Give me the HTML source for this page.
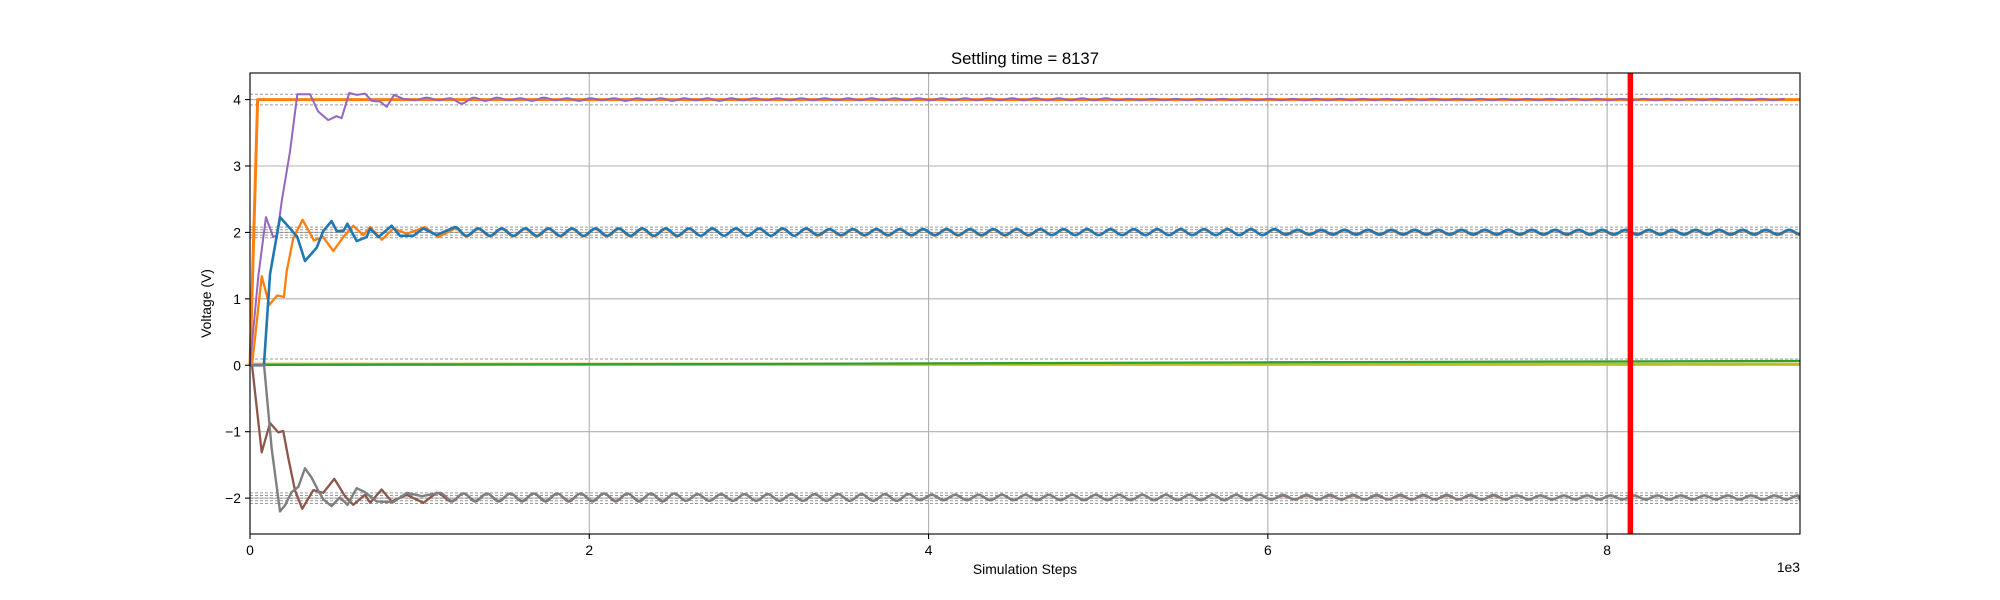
<!DOCTYPE html>
<html><head><meta charset="utf-8"><style>
html,body{margin:0;padding:0;background:#fff;}
svg{display:block;font-family:"Liberation Sans","DejaVu Sans",sans-serif;}
</style></head><body>
<svg id="chart" width="2000" height="600" viewBox="0 0 2000 600" xmlns="http://www.w3.org/2000/svg">
<rect x="0" y="0" width="2000" height="600" fill="#fff"/>
<g id="grid"></g>
<g id="bands"></g>
<g id="series"></g>
<g id="marker"></g>
<rect x="250" y="73" width="1550" height="461" fill="none" stroke="#000" stroke-width="1.1"/>
<g id="ticks"></g>
<text x="1025" y="64" text-anchor="middle" font-size="16.7" fill="#000">Settling time = 8137</text>
<text x="1025" y="574" text-anchor="middle" font-size="13.9" fill="#000">Simulation Steps</text>
<text transform="translate(211,303.5) rotate(-90)" text-anchor="middle" font-size="13.9" fill="#000">Voltage (V)</text>
<text x="1800" y="572" text-anchor="end" font-size="13.9" fill="#000">1e3</text>
</svg>
<script>
const xTicks = [0, 2000, 4000, 6000, 8000];
const xTickLabels = ["0", "2", "4", "6", "8"];
const yTicks = [-2, -1, 0, 1, 2, 3, 4];
const yTickLabels = ["\u22122", "\u22121", "0", "1", "2", "3", "4"];
const bandLevels = [4.08, 3.92, 2.08, 2.04, 2.0, 1.96, 1.92, 0.095, -1.92, -1.96, -2.0, -2.04, -2.08];
const settlingTime = 8137;
const xMax = 9137;
const halfPeriod = 69;

const orange4X = [0, 45, 9137];
const orange4Y = [0, 4, 4];
const oliveX = [0, 9137];
const oliveY = [0.02, 0.02];
const greenX = [0, 100, 3000, 6000, 9137];
const greenY = [0, 0.005, 0.02, 0.045, 0.065];

const purpleX = [0, 49, 94, 137, 160, 187, 236, 279, 354, 402, 461, 510, 540, 585, 629, 678, 718, 767, 806, 849, 904];
const purpleY = [0, 1.34, 2.23, 1.93, 1.96, 2.47, 3.22, 4.08, 4.08, 3.82, 3.69, 3.75, 3.72, 4.10, 4.07, 4.09, 3.98, 3.97, 3.89, 4.07, 4.01];
const purpleStart = 973;
const purpleSS = [
3.99,4.03,3.99,4.02,3.94,4.03,3.98,4.03,3.99,4.02,
3.98,4.03,3.99,4.02,3.98,4.02,3.99,4.02,3.98,4.02,
3.99,4.02,3.98,4.02,3.99,4.02,3.98,4.02,3.99,4.02,
3.99,4.02,3.99,4.02,3.99,4.02,3.99,4.02,3.99,4.02,
3.99,4.02,3.99,4.02,3.99,4.02,3.99,4.02,3.99,4.02,
3.99,4.02,3.99,4.02,3.99,4.02,3.99,4.02,3.99,4.02,
3.99,4.01,3.99,4.01,3.99,4.01,3.99,4.01,3.99,4.01,
3.99,4.01,3.99,4.01,3.99,4.01,3.99,4.01,3.99,4.01,
3.99,4.01,3.99,4.01,3.99,4.01,3.99,4.01,3.99,4.01,
3.99,4.01,3.99,4.01,3.99,4.01,3.99,4.01,3.99,4.01,
3.99,4.01,3.99,4.01,3.99,4.01,3.99,4.01,3.99,4.01,
3.99,4.01,3.99,4.01,3.99,4.01,3.99,4.01];

const orange2X = [0, 12, 69, 114, 160, 200, 216, 255, 310, 377, 432, 491, 550, 609, 668, 708, 777, 845, 924, 1032, 1110, 1208];
const orange2Y = [0, 0, 1.34, 0.91, 1.05, 1.03, 1.41, 1.91, 2.19, 1.88, 1.93, 1.72, 1.93, 2.10, 1.96, 2.08, 1.89, 2.06, 1.98, 2.08, 1.93, 2.06];
const orange2Start = 1277;
const orange2SS = [
1.94,2.05,1.94,2.05,1.94,2.05,1.94,2.05,1.94,2.05,
1.94,2.05,1.94,2.05,1.94,2.05,1.94,2.05,1.94,2.05,
1.95,2.05,1.95,2.05,1.95,2.05,1.95,2.05,1.95,2.05,
1.95,2.04,1.95,2.04,1.95,2.04,1.95,2.04,1.95,2.04,
1.95,2.04,1.95,2.04,1.95,2.04,1.95,2.04,1.95,2.04,
1.96,2.04,1.96,2.04,1.96,2.04,1.96,2.04,1.96,2.04,
1.96,2.04,1.96,2.04,1.96,2.04,1.96,2.04,1.96,2.04,
1.96,2.03,1.96,2.03,1.96,2.03,1.96,2.03,1.96,2.03,
1.96,2.03,1.96,2.03,1.96,2.03,1.96,2.03,1.96,2.03,
1.96,2.03,1.96,2.03,1.96,2.03,1.96,2.03,1.96,2.03,
1.96,2.03,1.96,2.03,1.96,2.03,1.96,2.03,1.96,2.03,
1.96,2.03,1.96,2.03,1.96];

const blueX = [0, 82, 118, 177, 236, 279, 324, 393, 432, 481, 511, 550, 574, 629, 688, 708, 757, 835, 884, 963, 1022, 1100, 1208];
const blueY = [0, 0, 1.37, 2.23, 2.06, 1.93, 1.57, 1.77, 2.02, 2.17, 2.02, 2.02, 2.13, 1.87, 1.93, 2.06, 1.93, 2.10, 1.95, 1.95, 2.06, 1.96, 2.08];
const blueStart = 1277;
const blueSS = [
1.95,2.06,1.95,2.06,1.95,2.06,1.95,2.06,1.95,2.06,
1.95,2.06,1.95,2.06,1.95,2.06,1.95,2.06,1.95,2.06,
1.95,2.06,1.95,2.06,1.95,2.06,1.95,2.06,1.95,2.06,
1.96,2.05,1.96,2.05,1.96,2.05,1.96,2.05,1.96,2.05,
1.96,2.05,1.96,2.05,1.96,2.05,1.96,2.05,1.96,2.05,
1.96,2.05,1.96,2.05,1.96,2.05,1.96,2.05,1.96,2.05,
1.96,2.05,1.96,2.05,1.96,2.05,1.96,2.05,1.96,2.05,
1.97,2.04,1.97,2.04,1.97,2.04,1.97,2.04,1.97,2.04,
1.97,2.04,1.97,2.04,1.97,2.04,1.97,2.04,1.97,2.04,
1.97,2.04,1.97,2.04,1.97,2.04,1.97,2.04,1.97,2.04,
1.97,2.04,1.97,2.04,1.97,2.04,1.97,2.04,1.97,2.04,
1.97,2.04,1.97,2.04,1.97];

const brownX = [0, 12, 69, 118, 167, 196, 226, 265, 308, 373, 432, 497, 560, 609, 678, 708, 776, 835, 924, 1022, 1100];
const brownY = [0, 0, -1.31, -0.87, -1.01, -0.99, -1.40, -1.88, -2.16, -1.88, -1.92, -1.71, -1.97, -2.10, -1.95, -2.07, -1.87, -2.05, -1.95, -2.07, -1.92];
const brownStart = 1190;
const brownSS = [
-2.05,-1.93,-2.05,-1.93,-2.05,-1.93,-2.05,-1.93,-2.05,-1.93,
-2.05,-1.93,-2.05,-1.93,-2.05,-1.93,-2.05,-1.93,-2.05,-1.93,
-2.04,-1.94,-2.04,-1.94,-2.04,-1.94,-2.04,-1.94,-2.04,-1.94,
-2.04,-1.94,-2.04,-1.94,-2.04,-1.94,-2.04,-1.94,-2.04,-1.94,
-2.03,-1.95,-2.03,-1.95,-2.03,-1.95,-2.03,-1.95,-2.03,-1.95,
-2.03,-1.95,-2.03,-1.95,-2.03,-1.95,-2.03,-1.95,-2.03,-1.95,
-2.03,-1.95,-2.03,-1.95,-2.03,-1.95,-2.03,-1.95,-2.03,-1.95,
-2.02,-1.96,-2.02,-1.96,-2.02,-1.96,-2.02,-1.96,-2.02,-1.96,
-2.02,-1.96,-2.02,-1.96,-2.02,-1.96,-2.02,-1.96,-2.02,-1.96,
-2.02,-1.96,-2.02,-1.96,-2.02,-1.96,-2.02,-1.96,-2.02,-1.96,
-2.02,-1.96,-2.02,-1.96,-2.02,-1.96,-2.02,-1.96,-2.02,-1.96,
-2.02,-1.96,-2.02,-1.96,-2.02,-1.96,-2.02];

const grayX = [0, 83, 128, 177, 206, 245, 285, 324, 363, 403, 432, 481, 530, 575, 629, 678, 747, 845, 924, 1012, 1120];
const grayY = [0, 0, -1.26, -2.20, -2.11, -1.91, -1.83, -1.55, -1.69, -1.89, -2.02, -2.12, -1.99, -2.10, -1.85, -1.91, -2.05, -2.06, -1.92, -1.97, -1.92];
const grayStart = 1190;
const graySS = [
-2.04,-1.93,-2.04,-1.93,-2.04,-1.93,-2.04,-1.93,-2.04,-1.93,
-2.04,-1.93,-2.04,-1.93,-2.04,-1.93,-2.04,-1.93,-2.04,-1.93,
-2.04,-1.94,-2.04,-1.94,-2.04,-1.94,-2.04,-1.94,-2.04,-1.94,
-2.04,-1.94,-2.04,-1.94,-2.04,-1.94,-2.04,-1.94,-2.04,-1.94,
-2.03,-1.95,-2.03,-1.95,-2.03,-1.95,-2.03,-1.95,-2.03,-1.95,
-2.03,-1.95,-2.03,-1.95,-2.03,-1.95,-2.03,-1.95,-2.03,-1.95,
-2.03,-1.95,-2.03,-1.95,-2.03,-1.95,-2.03,-1.95,-2.03,-1.95,
-2.02,-1.95,-2.02,-1.95,-2.02,-1.95,-2.02,-1.95,-2.02,-1.95,
-2.02,-1.95,-2.02,-1.95,-2.02,-1.95,-2.02,-1.95,-2.02,-1.95,
-2.02,-1.96,-2.02,-1.96,-2.02,-1.96,-2.02,-1.96,-2.02,-1.96,
-2.02,-1.96,-2.02,-1.96,-2.02,-1.96,-2.02,-1.96,-2.02,-1.96,
-2.02,-1.96,-2.02,-1.96,-2.02,-1.96,-2.02];

const X0 = 250, X1 = 1800, Y0 = 73, Y1 = 534;
const yMin = -2.54, yMax = 4.4;
function sx(v) { return X0 + (v / xMax) * (X1 - X0); }
function sy(v) { return Y1 - (v - yMin) / (yMax - yMin) * (Y1 - Y0); }
const NS = "http://www.w3.org/2000/svg";
function mk(tag, attrs, parent) {
  const e = document.createElementNS(NS, tag);
  for (const k in attrs) e.setAttribute(k, attrs[k]);
  parent.appendChild(e);
  return e;
}
const grid = document.getElementById('grid');
const ticks = document.getElementById('ticks');
xTicks.forEach((t, i) => {
  const gl = mk('line', {x1: sx(t), x2: sx(t), y1: Y0, y2: Y1, stroke: '#b0b0b0', 'stroke-width': 1.1}, grid);
  
  
  const tk = mk('line', {x1: sx(t), x2: sx(t), y1: Y1, y2: Y1 + 5, stroke: '#000', 'stroke-width': 1.1}, ticks);
  
  
  const tl = mk('text', {x: sx(t), y: Y1 + 21, 'text-anchor': 'middle', 'font-size': 13.9, fill: '#000'}, ticks);
  tl.textContent = xTickLabels[i];
  
  
});
yTicks.forEach((t, i) => {
  const gl = mk('line', {x1: X0, x2: X1, y1: sy(t), y2: sy(t), stroke: '#b0b0b0', 'stroke-width': 1.1}, grid);
  
  
  const tk = mk('line', {x1: X0 - 5, x2: X0, y1: sy(t), y2: sy(t), stroke: '#000', 'stroke-width': 1.1}, ticks);
  
  
  const tl = mk('text', {x: X0 - 9, y: sy(t) + 5, 'text-anchor': 'end', 'font-size': 13.9, fill: '#000'}, ticks);
  tl.textContent = yTickLabels[i];
  
  
});
const bands = document.getElementById('bands');
bandLevels.forEach(v => {
  const l = mk('line', {x1: X0, x2: X1, y1: sy(v), y2: sy(v), stroke: '#888', 'stroke-width': 1, 'stroke-dasharray': '3,2', opacity: 0.85}, bands);
  
  
});
function buildPath(xs, ys, start, ss) {
  let d = 'M' + sx(xs[0]).toFixed(2) + ',' + sy(ys[0]).toFixed(2);
  for (let i = 1; i < xs.length; i++) d += ' L' + sx(xs[i]).toFixed(2) + ',' + sy(ys[i]).toFixed(2);
  if (ss) {
    let px = xs[xs.length - 1], py = ys[ys.length - 1];
    for (let i = 0; i < ss.length; i++) {
      const nx = Math.min(start + i * halfPeriod, xMax), ny = ss[i];
      const h = (sx(nx) - sx(px)) * 0.36;
      d += ' C' + (sx(px) + h).toFixed(2) + ',' + sy(py).toFixed(2) + ' ' + (sx(nx) - h).toFixed(2) + ',' + sy(ny).toFixed(2) + ' ' + sx(nx).toFixed(2) + ',' + sy(ny).toFixed(2);
      px = nx; py = ny;
      if (nx >= xMax) break;
    }
  }
  return d;
}
const series = document.getElementById('series');
const defs = [
  ['series-orange-4v', orange4X, orange4Y, 0, null, '#ff7f0e', 3],
  ['series-olive', oliveX, oliveY, 0, null, '#bcbd22', 2.6],
  ['series-green', greenX, greenY, 0, null, '#2ca02c', 2.2],
  ['series-purple', purpleX, purpleY, purpleStart, purpleSS, '#9467bd', 2],
  ['series-orange-2v', orange2X, orange2Y, orange2Start, orange2SS, '#ff7f0e', 2.3],
  ['series-blue', blueX, blueY, blueStart, blueSS, '#1f77b4', 2.6],
  ['series-brown', brownX, brownY, brownStart, brownSS, '#8c564b', 2.3],
  ['series-gray', grayX, grayY, grayStart, graySS, '#7f7f7f', 2.4]
];
defs.forEach(s => {
  const p = mk('path', {d: buildPath(s[1], s[2], s[3], s[4]), fill: 'none', stroke: s[5], 'stroke-width': s[6], 'stroke-linejoin': 'round'}, series);
  
  
});
const marker = document.getElementById('marker');
const rl = mk('line', {x1: sx(settlingTime), x2: sx(settlingTime), y1: Y0, y2: Y1, stroke: '#ff0000', 'stroke-width': 5.5}, marker);


</script>
</body></html>
